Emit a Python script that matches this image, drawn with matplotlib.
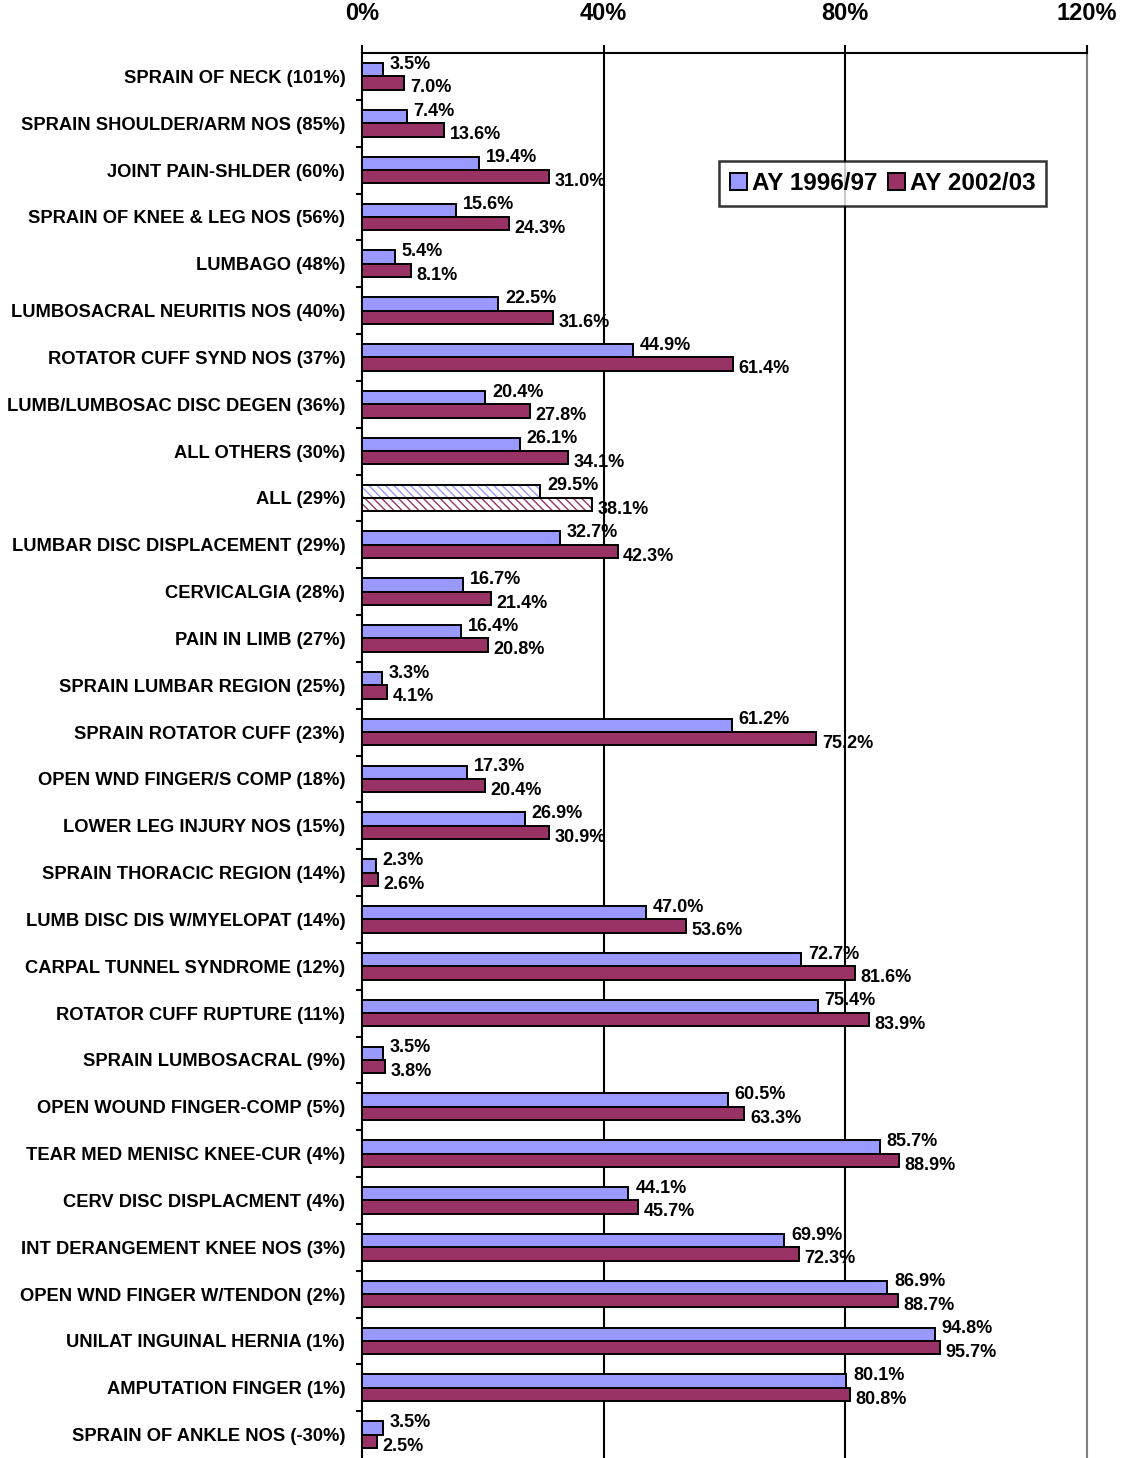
import matplotlib
matplotlib.use("Agg")
import matplotlib.pyplot as plt
import numpy as np
from matplotlib.patches import Patch

plt.rcParams['font.family'] = ['Liberation Sans', 'DejaVu Sans']
plt.rcParams['font.weight'] = 'bold'

categories = [
    "SPRAIN OF NECK (101%)",
    "SPRAIN SHOULDER/ARM NOS (85%)",
    "JOINT PAIN-SHLDER (60%)",
    "SPRAIN OF KNEE & LEG NOS (56%)",
    "LUMBAGO (48%)",
    "LUMBOSACRAL NEURITIS NOS (40%)",
    "ROTATOR CUFF SYND NOS (37%)",
    "LUMB/LUMBOSAC DISC DEGEN (36%)",
    "ALL OTHERS (30%)",
    "ALL (29%)",
    "LUMBAR DISC DISPLACEMENT (29%)",
    "CERVICALGIA (28%)",
    "PAIN IN LIMB (27%)",
    "SPRAIN LUMBAR REGION (25%)",
    "SPRAIN ROTATOR CUFF (23%)",
    "OPEN WND FINGER/S COMP (18%)",
    "LOWER LEG INJURY NOS (15%)",
    "SPRAIN THORACIC REGION (14%)",
    "LUMB DISC DIS W/MYELOPAT (14%)",
    "CARPAL TUNNEL SYNDROME (12%)",
    "ROTATOR CUFF RUPTURE (11%)",
    "SPRAIN LUMBOSACRAL (9%)",
    "OPEN WOUND FINGER-COMP (5%)",
    "TEAR MED MENISC KNEE-CUR (4%)",
    "CERV DISC DISPLACMENT (4%)",
    "INT DERANGEMENT KNEE NOS (3%)",
    "OPEN WND FINGER W/TENDON (2%)",
    "UNILAT INGUINAL HERNIA (1%)",
    "AMPUTATION FINGER (1%)",
    "SPRAIN OF ANKLE NOS (-30%)",
]

ay_1996_97 = [3.5, 7.4, 19.4, 15.6, 5.4, 22.5, 44.9, 20.4, 26.1, 29.5,
              32.7, 16.7, 16.4, 3.3, 61.2, 17.3, 26.9, 2.3, 47.0, 72.7,
              75.4, 3.5, 60.5, 85.7, 44.1, 69.9, 86.9, 94.8, 80.1, 3.5]
ay_2002_03 = [7.0, 13.6, 31.0, 24.3, 8.1, 31.6, 61.4, 27.8, 34.1, 38.1,
              42.3, 21.4, 20.8, 4.1, 75.2, 20.4, 30.9, 2.6, 53.6, 81.6,
              83.9, 3.8, 63.3, 88.9, 45.7, 72.3, 88.7, 95.7, 80.8, 2.5]

series_names = ["AY 1996/97", "AY 2002/03"]
x_ticks = [0, 40, 80, 120]
x_ticklabels = ["0%", "40%", "80%", "120%"]
hatched_category = "ALL (29%)"

c1 = "#9999FF"
c2 = "#993366"

fig = plt.figure(figsize=(11.23, 14.58), dpi=100)
ax = fig.add_axes([362/1123, 0.0, (1087-362)/1123, (1458-53)/1458])

n = len(categories)
y = np.arange(n)
h = 0.285

for i in range(n):
    for vals, col, off, sign in ((ay_1996_97, c1, -h/2, -1), (ay_2002_03, c2, h/2, 1)):
        v = vals[i]
        if categories[i] == hatched_category:
            ax.barh(y[i] + off, v, height=h, color='white', edgecolor=col,
                    hatch='\\\\\\\\', linewidth=0, zorder=3)
            ax.barh(y[i] + off, v, height=h, fill=False, edgecolor='black',
                    linewidth=1.4, zorder=4)
        else:
            ax.barh(y[i] + off, v, height=h, color=col, edgecolor='black',
                    linewidth=1.4, zorder=3)
        if sign < 0:
            ax.annotate(f"{v:.1f}%", xy=(v, y[i] + off), xytext=(5, 4),
                        textcoords='offset points', ha='left', va='center',
                        fontsize=13, fontweight='bold', zorder=5)
        else:
            ax.annotate(f"{v:.1f}%", xy=(v, y[i] + off), xytext=(4, -3.5),
                        textcoords='offset points', ha='left', va='center',
                        fontsize=13, fontweight='bold', zorder=5)

ax.set_xlim(0, 120)
ax.set_ylim(n - 0.5, -0.5)

ax.xaxis.tick_top()
ax.set_xticks(x_ticks)
ax.set_xticklabels(x_ticklabels, fontsize=17, fontweight='bold')
ax.tick_params(axis='x', direction='out', length=6, width=1.5, pad=14, colors='black')

ax.set_yticks(y)
ax.set_yticklabels(categories, fontsize=13.2, fontweight='bold')
ax.tick_params(axis='y', which='major', length=0, pad=12)
ax.set_yticks(np.arange(n - 1) + 0.5, minor=True)
ax.tick_params(axis='y', which='minor', direction='out', length=4, width=1.5)

for gx in x_ticks[1:-1]:
    ax.axvline(gx, color='black', linewidth=1.5, zorder=1)

ax.spines['top'].set_linewidth(1.5)
ax.spines['left'].set_linewidth(1.5)
ax.spines['right'].set_color('#808080')
ax.spines['right'].set_linewidth(1.5)
ax.spines['bottom'].set_visible(False)

handles = [Patch(facecolor=c1, edgecolor='black', linewidth=1.4, label=series_names[0]),
           Patch(facecolor=c2, edgecolor='black', linewidth=1.4, label=series_names[1])]
leg = ax.legend(handles=handles, loc='center', bbox_to_anchor=(0.718, 0.907),
                ncol=2, prop={'weight': 'bold', 'size': 17.5},
                frameon=True, fancybox=False, handlelength=0.7, handleheight=0.7,
                handletextpad=0.2, columnspacing=0.45, borderpad=0.45)
leg.get_frame().set_edgecolor('black')
leg.get_frame().set_linewidth(1.8)

fig.savefig("out.png", dpi=100)
